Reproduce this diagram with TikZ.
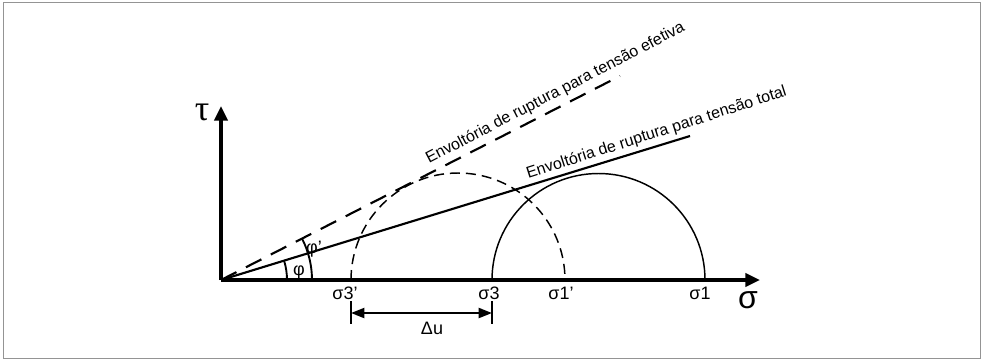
\documentclass[tikz,border=0pt]{standalone}
\usepackage{fontspec}
\setmainfont{Liberation Sans}
\newfontfamily\greekserif{Liberation Serif}
\usetikzlibrary{arrows.meta,calc}
\begin{document}
\begin{tikzpicture}[x=0.75pt,y=-0.75pt,
  frame/.style={draw=black!42,line width=0.8pt},
  axis/.style={line width=2.4pt,-{Triangle[length=11pt,width=10pt]}},
  env/.style={line width=1.6pt},
  envdash/.style={line width=1.6pt,dash pattern=on 13pt off 8pt},
  circ/.style={line width=1.1pt},
  circdash/.style={line width=1.1pt,dash pattern=on 7.5pt off 4.5pt},
  anglearc/.style={line width=1.4pt},
  lab/.style={font=\fontsize{13.5}{15}\selectfont,inner sep=0pt},
  envlab/.style={font=\fontsize{12}{14}\selectfont,inner sep=0pt,anchor=base west},
  dim/.style={line width=1.5pt,{Triangle[length=10pt,width=7.5pt]}-{Triangle[length=10pt,width=7.5pt]}},
  dimtick/.style={line width=1.5pt},
]
\useasboundingbox (0,0) rectangle (984,361);
\draw[frame] (3.5,2.5) rectangle (980.5,358.5);

% key points
\coordinate (O) at (221,280);
\coordinate (tauend) at (221,106);
\coordinate (sigend) at (760,280);
\coordinate (s3p) at (351,280);
\coordinate (s1p) at (565,280);
\coordinate (s3) at (492,280);
\coordinate (s1) at (705,280);
\coordinate (effend) at (620,76);
\coordinate (totend) at (690,136);

% Mohr circles
\draw[circdash] (s3p) arc[start angle=180,end angle=360,radius=107];
\draw[circ] (s3) arc[start angle=180,end angle=360,radius=106.5];

% envelopes
\draw[envdash] (O) -- (effend);
\draw[env] (O) -- (totend);

% angle arcs
\draw[anglearc] ($(O)+(66,0)$) arc[start angle=0,end angle=-17.07,radius=66];
\draw[anglearc] ($(O)+(91,0)$) arc[start angle=0,end angle=-27.08,radius=91];

% axes
\draw[axis] (O) -- (tauend);
\draw[axis] (O) -- (sigend);

% labels
\node[font=\greekserif\fontsize{27}{29}\selectfont,inner sep=0pt] (ltau) at (202,112) {τ};
\node[font=\fontsize{24}{26}\selectfont,inner sep=0pt] (lsig) at (748,300) {σ};
\node[lab] (ls3p) at (345,293) {σ3’};
\node[lab] (ls3) at (489,293) {σ3};
\node[lab] (ls1p) at (561,293) {σ1’};
\node[lab] (ls1) at (700,293) {σ1};
\node[lab] (lphi) at (299,272) {φ};
\node[lab] (lphip) at (314,249) {φ’};

\node[envlab,rotate=27.5] (teff) at (429,164) {Envoltória de ruptura para tensão efetiva};
\node[envlab,rotate=17.8] (ttot) at (528,179) {Envoltória de ruptura para tensão total};

% delta u dimension
\coordinate (t1a) at (351,301);
\coordinate (t1b) at (351,324);
\coordinate (t2a) at (492,301);
\coordinate (t2b) at (492,324);
\coordinate (d1) at (351,313);
\coordinate (d2) at (492,313);
\draw[dimtick] (t1a) -- (t1b);
\draw[dimtick] (t2a) -- (t2b);
\draw[dim] (d1) -- (d2);
\node[lab] (ldu) at (432,328) {Δu};
\end{tikzpicture}
\end{document}
